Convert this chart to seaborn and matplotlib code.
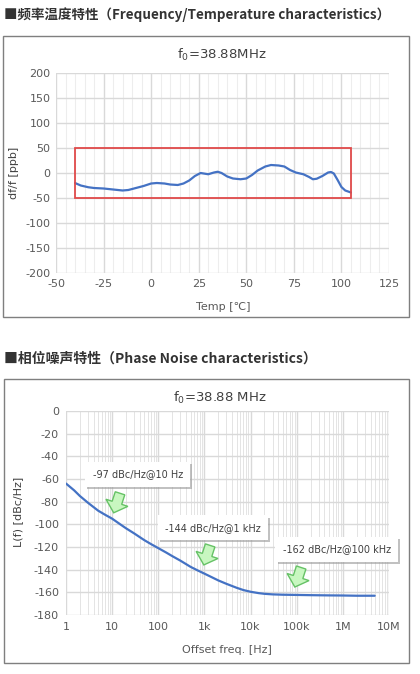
import numpy as np
import pandas as pd
import seaborn as sns
import matplotlib.pyplot as plt
from matplotlib.patches import Rectangle, Polygon
from matplotlib.transforms import ScaledTranslation
from matplotlib import patheffects as pe

sns.set_theme(style="white")
plt.rcParams['font.family'] = ['DejaVu Sans', 'Noto Sans CJK SC']
plt.rcParams['axes.unicode_minus'] = False

# 频率温度特性 data
temp = [-40, -37, -33, -30, -25, -20, -15, -12, -8, -4, 0, 3, 7, 10, 14, 17, 20, 23,
        26, 30, 33, 35, 37, 40, 43, 47, 50, 53, 56, 60, 63, 67, 70, 73, 76, 80, 83,
        85, 87, 90, 93, 94.5, 96, 98, 100, 102, 105]
dfdf = [-20, -25, -28.5, -30, -31, -33, -35, -34, -30, -26, -21, -20, -21, -23, -24,
        -21, -15, -6, 0, -2.5, 1, 2.5, 0, -7, -11, -12.5, -11, -4, 5, 13, 16, 15, 13,
        6, 1, -2.5, -8, -12.5, -11.5, -6, 1, 2, -1, -14, -28, -35, -39]

# 相位噪声 data
freq = [1, 1.5, 2, 3, 5, 7, 10, 15, 20, 30, 50, 70, 100, 150, 200, 300, 500, 700,
        1e3, 1.5e3, 2e3, 3e3, 5e3, 7e3, 1e4, 1.5e4, 2e4, 3e4, 5e4, 1e5, 2e5, 5e5,
        1e6, 2e6, 4.9e6]
noise = [-64, -70, -75, -81, -88, -91.5, -95, -100, -103.5, -108, -114, -117.5, -121,
         -125, -128, -132, -137.5, -140.5, -143.5, -147, -149.5, -152.5, -156, -158,
         -159.5, -160.7, -161.3, -161.8, -162.1, -162.3, -162.5, -162.7, -162.8, -163, -163]

pn_labels = ["-97 dBc/Hz@10 Hz", "-144 dBc/Hz@1 kHz", "-162 dBc/Hz@100 kHz"]
label_pos = [(36, -56), (1550, -103), (7.4e5, -122)]
arrow_at = [(12.7, -81), (1140, -127), (1.07e5, -146.5)]

W, H = 420, 674
fig = plt.figure(figsize=(W / 100, H / 100), dpi=100)
txt = '#595959'
grid = '#d9d9d9'

# frames and headings
for (x0, y0, x1, y1) in [(3, 36, 409, 317), (4, 379, 409, 663)]:
    fig.patches.append(Rectangle((x0 / W, 1 - y1 / H), (x1 - x0) / W, (y1 - y0) / H,
                                 transform=fig.transFigure, fill=False, ec='#7f7f7f', lw=1))
fig.text(4 / W, 1 - 15 / H, "■频率温度特性（Frequency/Temperature characteristics）",
         family=['Noto Sans CJK SC', 'DejaVu Sans'], weight='bold', fontsize=9.7,
         color='#333333', va='center', ha='left')
fig.text(4 / W, 1 - 359 / H, "■相位噪声特性（Phase Noise characteristics）",
         family=['Noto Sans CJK SC', 'DejaVu Sans'], weight='bold', fontsize=10,
         color='#333333', va='center', ha='left')

# top chart
ax1 = fig.add_axes([56 / W, 1 - 273 / H, 333 / W, 200 / H])
df1 = pd.DataFrame({'temp': temp, 'dfdf': dfdf})
sns.lineplot(data=df1, x='temp', y='dfdf', ax=ax1, color='#4472c4', lw=1.6)
ax1.add_patch(Rectangle((-40, -50), 145, 100, fill=False, ec='#e04a4a', lw=1.3, zorder=3))
ax1.set_xlim(-50, 125)
ax1.set_ylim(-200, 200)
ax1.set_xticks(np.arange(-50, 126, 25))
ax1.set_xticks(np.arange(-50, 126, 5), minor=True)
ax1.set_yticks(np.arange(-200, 201, 50))
ax1.grid(True, which='major', color=grid, lw=1)
ax1.grid(True, which='minor', axis='x', color='#ededed', lw=0.8)
ax1.set_axisbelow(True)
for s in ax1.spines.values():
    s.set_visible(False)
ax1.tick_params(axis='both', which='both', length=0, labelsize=8, labelcolor=txt, pad=4)
ax1.set_xlabel("")
ax1.set_ylabel("")
fig.text(222 / W, 1 - 55 / H, "f$_0$=38.88MHz", fontsize=9.5, color='#404040', ha='center', va='center')
fig.text(223 / W, 1 - 307 / H, "Temp [℃]", fontsize=8, color=txt, ha='center', va='center')
fig.text(14 / W, 1 - 173 / H, "df/f [ppb]", fontsize=8, color='#404040', ha='center', va='center', rotation=90)

# bottom chart
ax2 = fig.add_axes([66 / W, 1 - 615 / H, 323 / W, 204 / H])
df2 = pd.DataFrame({'freq': freq, 'noise': noise})
sns.lineplot(data=df2, x='freq', y='noise', ax=ax2, color='#4472c4', lw=1.6)
ax2.set_xscale('log')
ax2.set_xlim(1, 1e7)
ax2.set_ylim(-180, 0)
ax2.set_xticks([1, 10, 100, 1e3, 1e4, 1e5, 1e6, 1e7])
ax2.set_xticklabels(['1', '10', '100', '1k', '10k', '100k', '1M', '10M'])
ax2.set_yticks(np.arange(-180, 1, 20))
ax2.grid(True, which='major', color=grid, lw=1)
ax2.grid(True, which='minor', axis='x', color='#e4e4e4', lw=0.7)
ax2.set_axisbelow(True)
for s in ax2.spines.values():
    s.set_visible(False)
ax2.tick_params(axis='both', which='both', length=0, labelsize=8, labelcolor=txt, pad=5)
ax2.set_xlabel("")
ax2.set_ylabel("")
fig.text(220 / W, 1 - 398 / H, "f$_0$=38.88 MHz", fontsize=9.5, color='#404040', ha='center', va='center')
fig.text(227 / W, 1 - 650 / H, "Offset freq. [Hz]", fontsize=8, color=txt, ha='center', va='center')
fig.text(18 / W, 1 - 512 / H, "L(f) [dBc/Hz]", fontsize=8, color='#404040', ha='center', va='center', rotation=90)

# block arrow shape in pixels (pointing down), tilted clockwise
shape = np.array([(-5, 10), (5, 10), (5, 0), (11.5, 0), (0, -10.5), (-11.5, 0), (-5, 0)], float)
th = np.deg2rad(18)
rot = np.array([[np.cos(th), np.sin(th)], [-np.sin(th), np.cos(th)]])
shape = shape @ rot.T / 100.0

for lab, (lx, ly), (ax_, ay_) in zip(pn_labels, label_pos, arrow_at):
    t = ax2.text(lx, ly, lab, fontsize=7, color='#404040', ha='center', va='center', clip_on=False,
                 bbox=dict(boxstyle='square,pad=0.75', fc='white', ec='none'), zorder=5)
    t.get_bbox_patch().set_path_effects([pe.withSimplePatchShadow(offset=(1.5, -1.5), shadow_rgbFace='#999999', alpha=0.6)])
    tr = fig.dpi_scale_trans + ScaledTranslation(ax_, ay_, ax2.transData)
    ax2.add_patch(Polygon(shape, closed=True, transform=tr, fc='#c8f7c0', ec='#66c266',
                          lw=1, zorder=6, clip_on=False))

fig.savefig("out.png", dpi=100)
